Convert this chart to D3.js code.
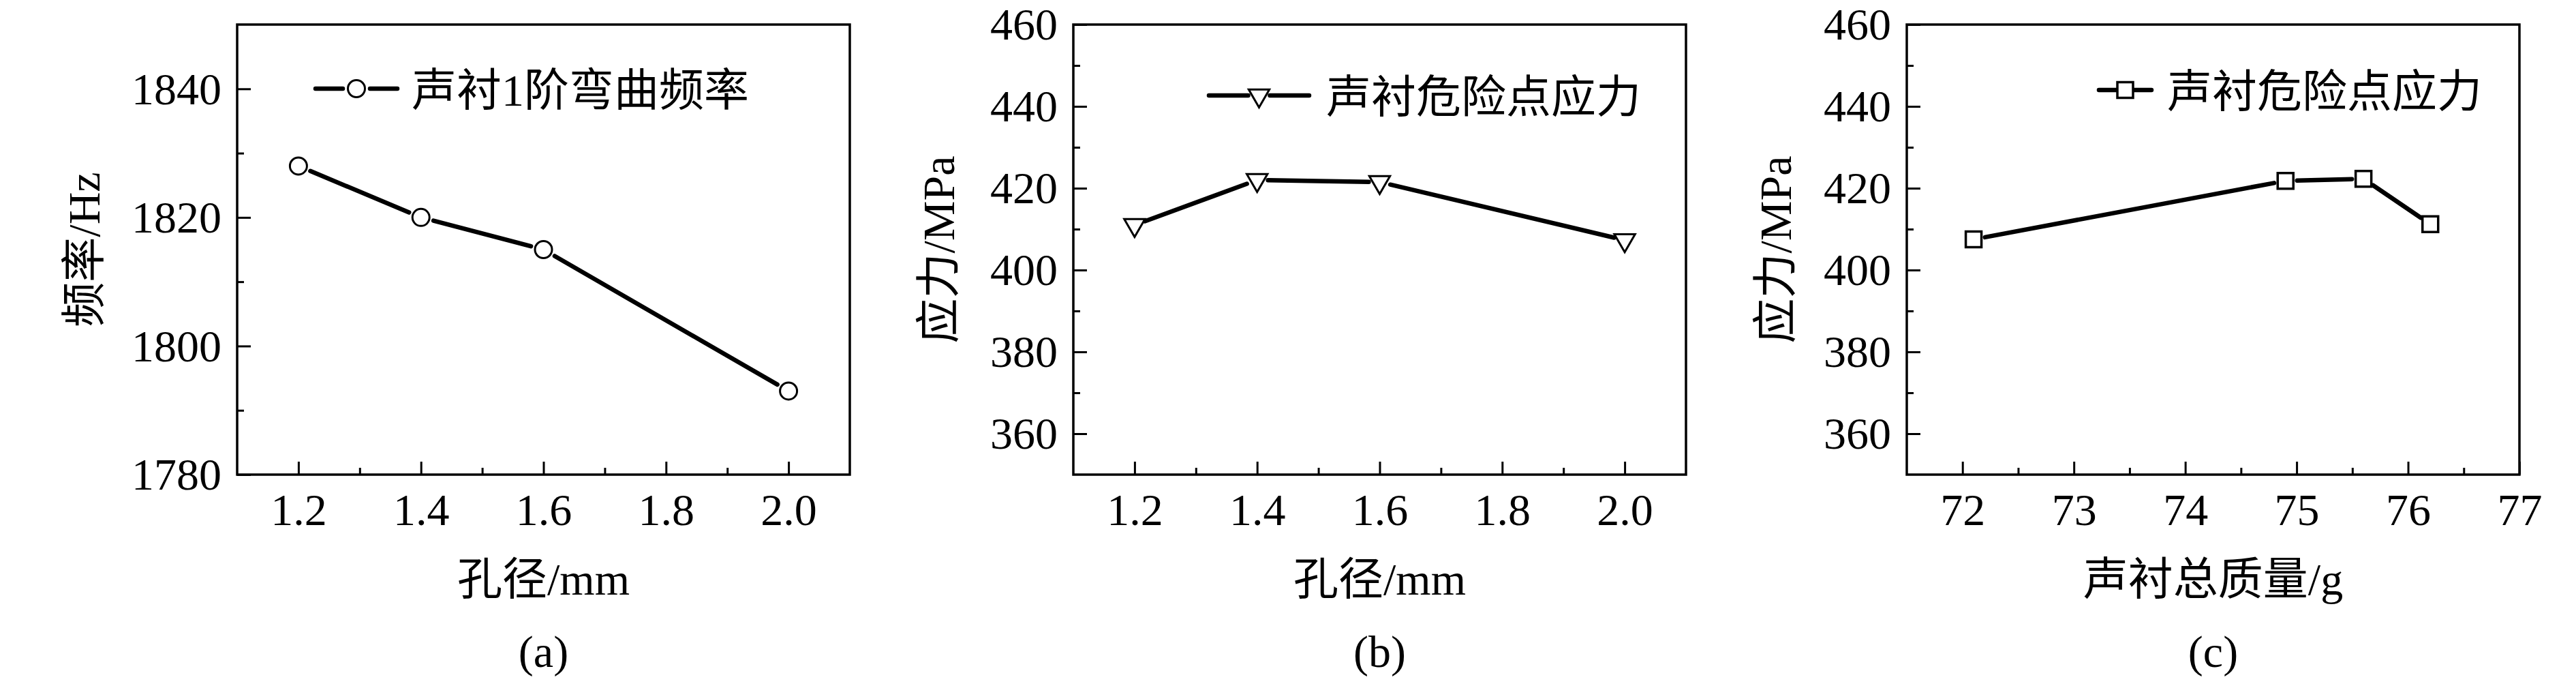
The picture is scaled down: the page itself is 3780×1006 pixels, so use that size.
<!DOCTYPE html>
<html>
<head>
<meta charset="utf-8">
<script src="https://cdn.jsdelivr.net/npm/d3@7"></script>
<style>
  html, body { margin: 0; padding: 0; background: #fff; }
  svg { display: block; }
</style>
</head>
<body>
<svg id="chart" width="3780" height="1006"></svg>
<script>
// ---------- data ----------
const holeDiameter = [1.2, 1.4, 1.6, 2.0];           // 孔径/mm
const bendFreq     = [1828, 1820, 1815, 1793];       // 声衬1阶弯曲频率 (Hz)
const dangerStress = [411, 422, 421.5, 407.3];       // 声衬危险点应力 vs 孔径 (MPa)
const linerMass    = [72.1, 74.9, 75.6, 76.2];       // 声衬总质量/g
const massStress   = [407.5, 421.8, 422.3, 411.2];   // 声衬危险点应力 vs 质量 (MPa)

const holeTicks   = [1.2, 1.4, 1.6, 1.8, 2.0];
const holeMinor   = [1.3, 1.5, 1.7, 1.9];
const massTicks   = [72, 73, 74, 75, 76, 77];
const massMinor   = [72.5, 73.5, 74.5, 75.5, 76.5];
const freqTicks   = [1780, 1800, 1820, 1840];
const freqMinor   = [1790, 1810, 1830];
const stressTicks = [360, 380, 400, 420, 440, 460];
const stressMinor = [370, 390, 410, 430, 450];

const yTitles  = ["频率/Hz", "应力/MPa", "应力/MPa"];
const xTitles  = ["孔径/mm", "孔径/mm", "声衬总质量/g"];
const legends  = ["声衬1阶弯曲频率", "声衬危险点应力", "声衬危险点应力"];
const tags     = ["(a)", "(b)", "(c)"];

// ---------- layout ----------
const TOP = 36, BOTTOM = 696, W = 899;
const LATIN = '"Liberation Serif", "Times New Roman", serif';
const MIXED = '"Liberation Serif", "Times New Roman", "Noto Sans CJK SC", serif';
const FS = 66;

const panels = [
  { left: 348,  xDomain: [1.1, 2.1], yDomain: [1780, 1850], xs: holeDiameter, ys: bendFreq,
    xTicks: holeTicks, xMinor: holeMinor, yTicks: freqTicks, yMinor: freqMinor, fmt: d3.format(".1f"),
    marker: "circle", titleX: 146,
    leg: { x0: 463, x1: 583, y: 130, tx: 604, gap: 20 } },
  { left: 1575, xDomain: [1.1, 2.1], yDomain: [350, 460], xs: holeDiameter, ys: dangerStress,
    xTicks: holeTicks, xMinor: holeMinor, yTicks: stressTicks, yMinor: stressMinor, fmt: d3.format(".1f"),
    marker: "triangle", titleX: 1400,
    leg: { x0: 1774, x1: 1921, y: 140, tx: 1946, gap: 16 } },
  { left: 2798, xDomain: [71.5, 77], yDomain: [350, 460], xs: linerMass, ys: massStress,
    xTicks: massTicks, xMinor: massMinor, yTicks: stressTicks, yMinor: stressMinor, fmt: d3.format("d"),
    marker: "square", titleX: 2628,
    leg: { x0: 3080, x1: 3157, y: 132, tx: 3180, gap: 12 } }
];

const svg = d3.select("#chart");

function drawMarker(g, type, x, y) {
  if (type === "circle") {
    g.append("circle").attr("cx", x).attr("cy", y).attr("r", 12.5)
      .attr("fill", "#fff").attr("stroke", "#000").attr("stroke-width", 3);
  } else if (type === "square") {
    g.append("path").attr("d", d3.symbol(d3.symbolSquare, 23 * 23)())
      .attr("transform", `translate(${x},${y})`)
      .attr("fill", "#fff").attr("stroke", "#000").attr("stroke-width", 3.5);
  } else {
    g.append("path").attr("d", d3.symbol(d3.symbolTriangle, 400)())
      .attr("transform", `translate(${x},${y}) rotate(180)`)
      .attr("fill", "#fff").attr("stroke", "#000").attr("stroke-width", 3);
  }
}

function segment(g, p, q, gap, width) {
  const dx = q[0] - p[0], dy = q[1] - p[1];
  const L = Math.hypot(dx, dy);
  const ux = dx / L, uy = dy / L;
  g.append("line")
    .attr("x1", p[0] + ux * gap).attr("y1", p[1] + uy * gap)
    .attr("x2", q[0] - ux * gap).attr("y2", q[1] - uy * gap)
    .attr("stroke", "#000").attr("stroke-width", width).attr("stroke-linecap", "round");
}

panels.forEach((P, i) => {
  const x = d3.scaleLinear().domain(P.xDomain).range([P.left, P.left + W]);
  const y = d3.scaleLinear().domain(P.yDomain).range([BOTTOM, TOP]);
  const g = svg.append("g");

  // major / minor ticks (inward)
  const styleAxis = sel => {
    sel.select(".domain").remove();
    sel.selectAll(".tick line").attr("stroke", "#000").attr("stroke-width", 3);
    sel.attr("font-family", LATIN).attr("font-size", FS);
    sel.selectAll("text").attr("fill", "#000");
  };
  g.append("g").attr("transform", `translate(0,${BOTTOM})`)
    .call(d3.axisBottom(x).tickValues(P.xTicks).tickFormat(P.fmt).tickSizeInner(-19).tickSizeOuter(0))
    .call(styleAxis)
    .call(s => s.selectAll("text").attr("y", 74).attr("dy", 0));
  g.append("g").attr("transform", `translate(0,${BOTTOM})`)
    .call(d3.axisBottom(x).tickValues(P.xMinor).tickFormat("").tickSizeInner(-10).tickSizeOuter(0))
    .call(styleAxis);
  g.append("g").attr("transform", `translate(${P.left},0)`)
    .call(d3.axisLeft(y).tickValues(P.yTicks).tickFormat(d3.format("d")).tickSizeInner(-20).tickSizeOuter(0))
    .call(styleAxis)
    .call(s => s.selectAll("text").attr("x", -23).attr("dy", "0.33em"));
  g.append("g").attr("transform", `translate(${P.left},0)`)
    .call(d3.axisLeft(y).tickValues(P.yMinor).tickFormat("").tickSizeInner(-10).tickSizeOuter(0))
    .call(styleAxis);

  // frame
  g.append("rect").attr("x", P.left).attr("y", TOP).attr("width", W).attr("height", BOTTOM - TOP)
    .attr("fill", "none").attr("stroke", "#000").attr("stroke-width", 3.5);

  // data line with gaps at markers
  const pts = P.xs.map((v, k) => [x(v), y(P.ys[k])]);
  const gap = P.marker === "circle" ? 19 : (P.marker === "square" ? 17 : 16);
  for (let k = 0; k < pts.length - 1; k++) segment(g, pts[k], pts[k + 1], gap, 6.5);
  pts.forEach(p => drawMarker(g, P.marker, p[0], p[1]));

  // legend
  const L = P.leg, mx = (L.x0 + L.x1) / 2;
  g.append("line").attr("x1", L.x0).attr("x2", mx - L.gap).attr("y1", L.y).attr("y2", L.y)
    .attr("stroke", "#000").attr("stroke-width", 6.5).attr("stroke-linecap", "round");
  g.append("line").attr("x1", mx + L.gap).attr("x2", L.x1).attr("y1", L.y).attr("y2", L.y)
    .attr("stroke", "#000").attr("stroke-width", 6.5).attr("stroke-linecap", "round");
  drawMarker(g, P.marker, mx, L.y);
  g.append("text").attr("x", L.tx).attr("y", L.y + 25)
    .attr("font-family", MIXED).attr("font-size", FS).attr("fill", "#000")
    .text(legends[i]);

  // axis titles
  const cx = P.left + W / 2;
  g.append("text").attr("x", cx).attr("y", 872).attr("text-anchor", "middle")
    .attr("font-family", MIXED).attr("font-size", FS).attr("fill", "#000").text(xTitles[i]);
  g.append("text").attr("transform", `translate(${P.titleX},${(TOP + BOTTOM) / 2}) rotate(-90)`)
    .attr("text-anchor", "middle")
    .attr("font-family", MIXED).attr("font-size", FS).attr("fill", "#000").text(yTitles[i]);
  g.append("text").attr("x", cx).attr("y", 978).attr("text-anchor", "middle")
    .attr("font-family", LATIN).attr("font-size", FS).attr("fill", "#000").text(tags[i]);
});
</script>
</body>
</html>
